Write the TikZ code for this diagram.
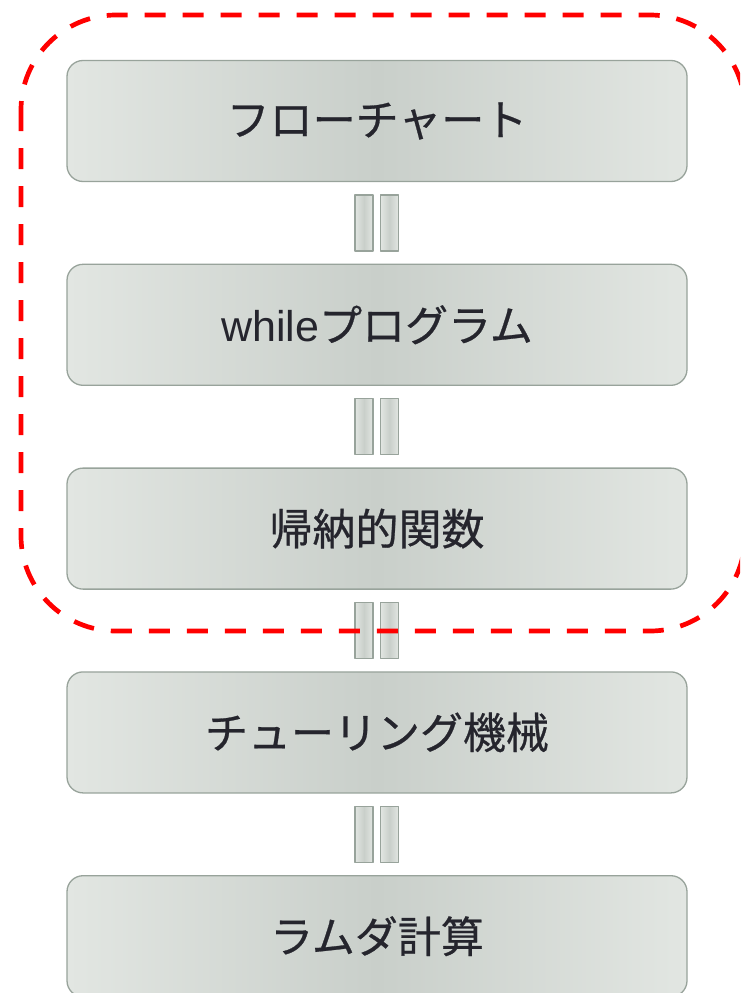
\documentclass[tikz,border=0pt]{standalone}
\usepackage{fontspec}
\setmainfont{Noto Sans CJK JP}[FakeBold=0.6]
\newfontfamily\latinfont{Liberation Sans}
\usetikzlibrary{positioning}
\definecolor{boxedge}{HTML}{E2E6E2}
\definecolor{boxmid}{HTML}{C9CFCA}
\definecolor{boxline}{HTML}{98A39B}
\definecolor{boxtext}{HTML}{25252D}
\definecolor{loopred}{HTML}{FF0000}
\begin{document}
\begin{tikzpicture}[x=1pt,y=-1pt,line join=bevel,
  model/.style={draw=boxline,line width=1.3pt,rounded corners=16pt,
    left color=boxedge,right color=boxedge,middle color=boxmid,
    minimum width=620pt,minimum height=121pt,inner sep=0pt,
    text=boxtext,font=\fontsize{43}{50}\selectfont},
  eqbar/.style={draw=boxline,line width=1.3pt,
    left color=boxedge,right color=boxedge,middle color=boxmid,
    minimum width=18pt,minimum height=56pt,inner sep=0pt},
  node distance=81.5pt]
%%
\clip (0,0) rectangle (740,993);
\fill[white] (0,0) rectangle (740,993);
\node (box_0) at (377,121) [model] {フローチャート};
  \node (box_1) [model,below=of box_0] {{\latinfont while}プログラム};
  \node (box_2) [model,below=of box_1] {帰納的関数};
  \node (box_3) [model,below=of box_2] {チューリング機械};
  \node (box_4) [model,below=of box_3] {ラムダ計算};
  \foreach \a/\b in {0/1,1/2,2/3,3/4} {
    \path (box_\a.south) -- (box_\b.north)
      node [eqbar,midway,xshift=-13pt] (eq_\a_l) {}
      node [eqbar,midway,xshift=12.5pt] (eq_\a_r) {};
  }
  \draw [loopred,line width=4.7pt,dash pattern=on 21pt off 17pt,
    rounded corners=95pt] (21,15) rectangle (745,631);
%
\end{tikzpicture}
\end{document}
